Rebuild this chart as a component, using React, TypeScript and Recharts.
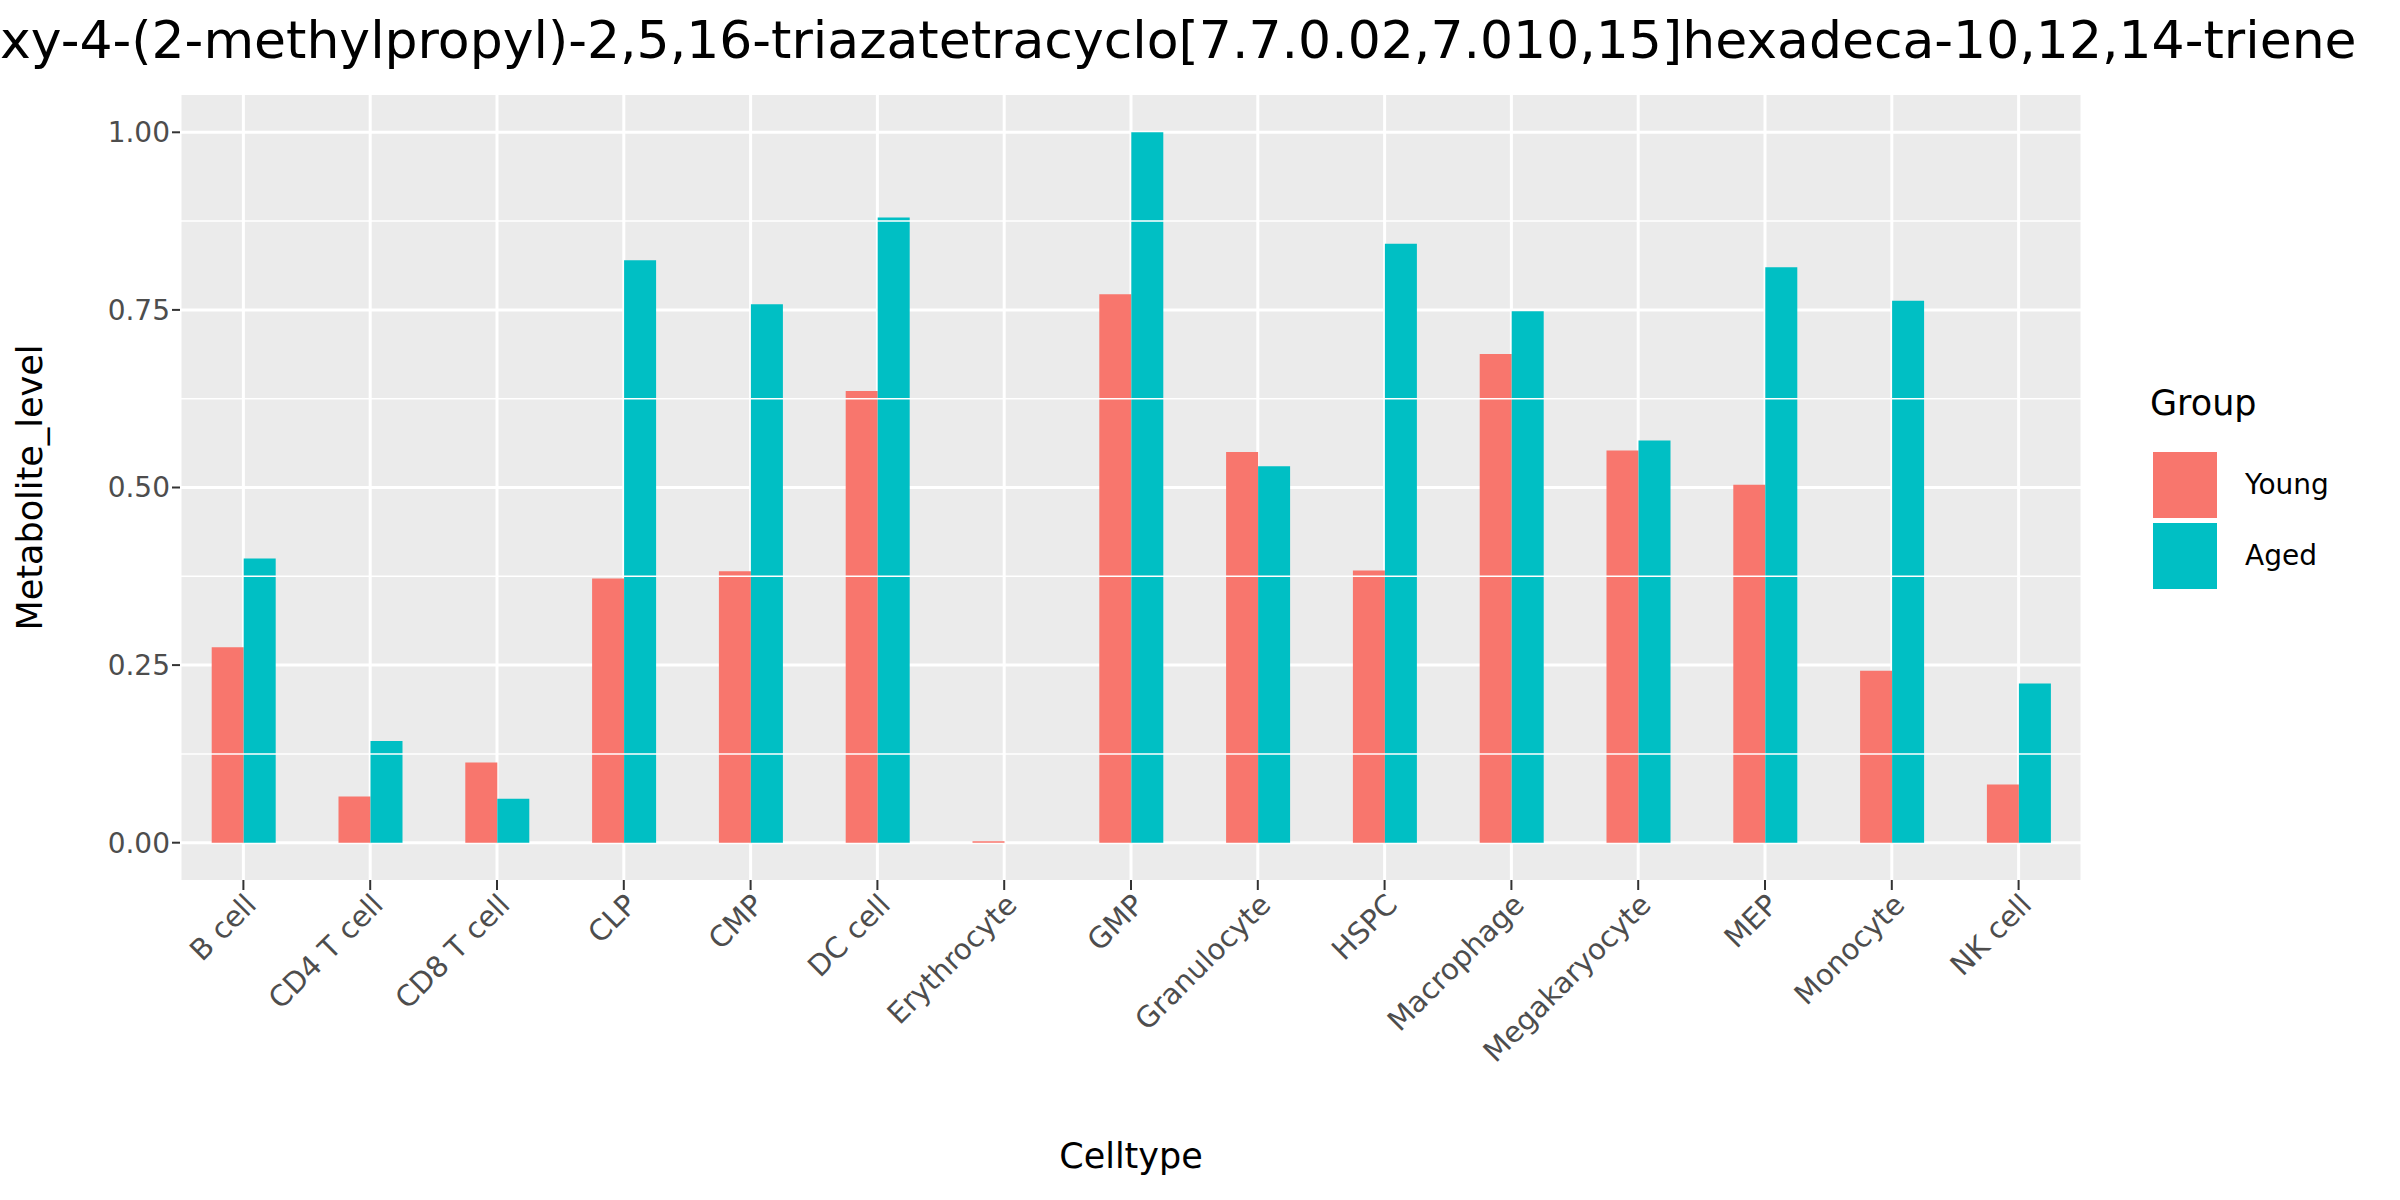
import React from 'react';
import { BarChart, Bar, XAxis, YAxis, CartesianGrid, ReferenceLine } from 'recharts';

const CELLTYPES = ['B cell', 'CD4 T cell', 'CD8 T cell', 'CLP', 'CMP', 'DC cell', 'Erythrocyte', 'GMP', 'Granulocyte', 'HSPC', 'Macrophage', 'Megakaryocyte', 'MEP', 'Monocyte', 'NK cell'];
const YOUNG = [0.275, 0.065, 0.113, 0.372, 0.382, 0.636, 0.002, 0.772, 0.55, 0.383, 0.688, 0.552, 0.504, 0.242, 0.082];
const AGED = [0.4, 0.143, 0.062, 0.82, 0.758, 0.88, 0, 1.0, 0.53, 0.843, 0.748, 0.566, 0.81, 0.763, 0.224];
const Y_TICKS = [0, 0.25, 0.5, 0.75, 1];
const MINOR_TICKS = [0.125, 0.375, 0.625, 0.875];

const TITLE = 'xy-4-(2-methylpropyl)-2,5,16-triazatetracyclo[7.7.0.02,7.010,15]hexadeca-10,12,14-triene';
const FONT = 'DejaVu Sans, sans-serif';
const YOUNG_COLOR = '#F8766D';
const AGED_COLOR = '#00BFC4';

const data = CELLTYPES.map((c, i) => ({ celltype: c, Young: YOUNG[i], Aged: AGED[i] }));

export default function App() {
  return (
    <div style={{ position: 'absolute', left: 0, top: 0, width: 2400, height: 1200, background: '#fff', overflow: 'hidden', fontFamily: FONT }}>
      <div style={{ position: 'absolute', left: 0, top: 10, fontSize: 52, whiteSpace: 'nowrap', color: '#000' }}>{TITLE}</div>
      <BarChart width={2400} height={1200} data={data} margin={{ top: 95, right: 318, bottom: 20, left: 80 }}
        barCategoryGap="25%" barGap={0}>
        <CartesianGrid fill="#EBEBEB" stroke="#fff" strokeWidth={3} horizontalValues={Y_TICKS} />
        {MINOR_TICKS.map((v) => (
          <ReferenceLine key={v} y={v} stroke="#fff" strokeWidth={1.5} />
        ))}
        <XAxis dataKey="celltype" height={300} axisLine={false} tickLine={{ stroke: '#333', strokeWidth: 2 }} tickSize={10}
          interval={0} angle={-45} textAnchor="end"
          tick={{ fill: '#4D4D4D', fontSize: 29, fontFamily: FONT }}
          label={{ value: 'Celltype', position: 'insideBottom', offset: 12, fill: '#000', fontSize: 35, fontFamily: FONT }} />
        <YAxis width={100} domain={[-0.0525, 1.0525]} ticks={Y_TICKS} axisLine={false}
          tickLine={{ stroke: '#333', strokeWidth: 2 }} tickSize={8}
          tickFormatter={(v: number) => v.toFixed(2)}
          tick={{ fill: '#4D4D4D', fontSize: 28, fontFamily: FONT }}
          label={{ value: 'Metabolite_level', angle: -90, position: 'insideLeft', offset: -50, fill: '#000', fontSize: 35, fontFamily: FONT, style: { textAnchor: 'middle' } }} />
        <Bar dataKey="Young" fill={YOUNG_COLOR} isAnimationActive={false} />
        <Bar dataKey="Aged" fill={AGED_COLOR} isAnimationActive={false} />
      </BarChart>
      <div style={{ position: 'absolute', left: 2150, top: 383, fontSize: 35 }}>Group</div>
      <div style={{ position: 'absolute', left: 2153, top: 452, width: 64, height: 66, background: YOUNG_COLOR }} />
      <div style={{ position: 'absolute', left: 2153, top: 523, width: 64, height: 66, background: AGED_COLOR }} />
      <div style={{ position: 'absolute', left: 2245, top: 468, fontSize: 28 }}>Young</div>
      <div style={{ position: 'absolute', left: 2245, top: 539, fontSize: 28 }}>Aged</div>
    </div>
  );
}
